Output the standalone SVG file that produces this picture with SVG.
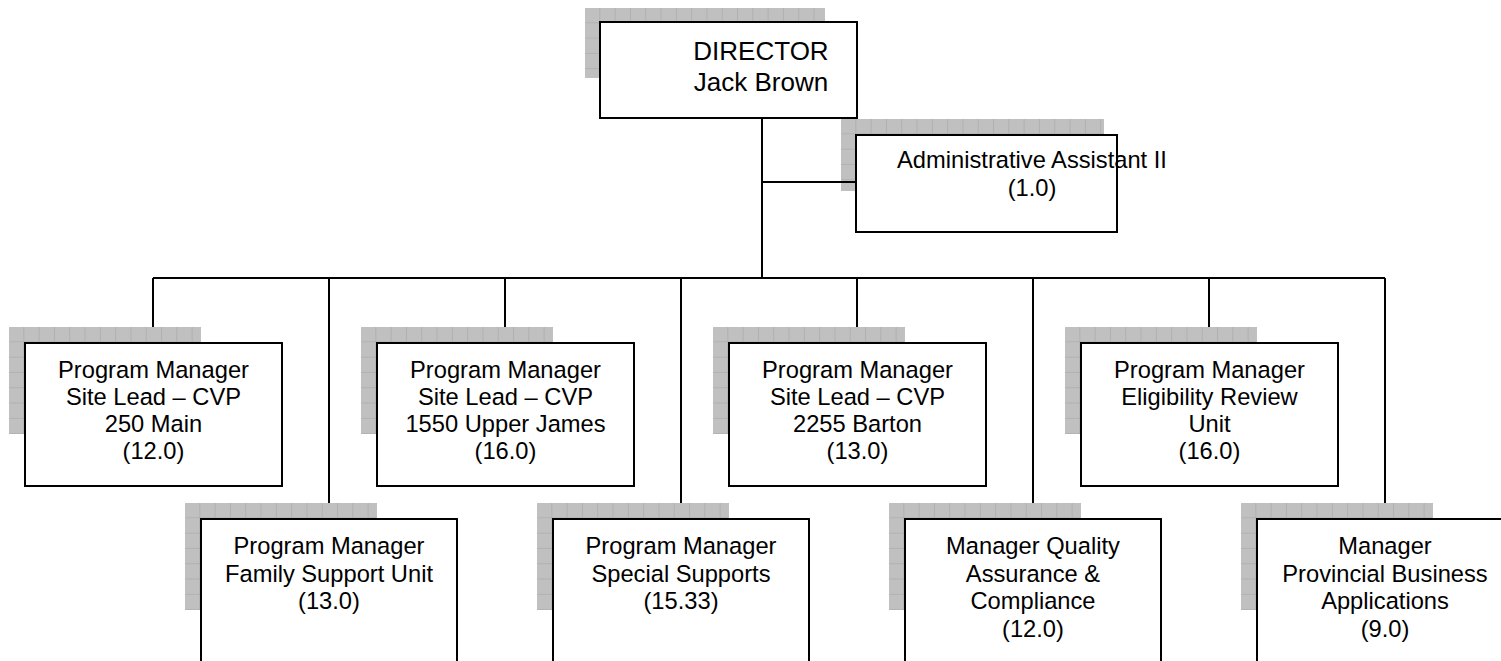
<svg xmlns="http://www.w3.org/2000/svg" width="1501" height="661" viewBox="0 0 1501 661">
<style>
.box{fill:#fff;stroke:#000;stroke-width:2}
.sh{fill:url(#grid)}
.t{font-family:"Liberation Sans",Arial,sans-serif;font-size:23.7px;fill:#000;text-anchor:middle}
.tb{font-family:"Liberation Sans",Arial,sans-serif;font-size:26px;fill:#000;text-anchor:middle}
.ln{stroke:#000;stroke-width:2;fill:none}
</style>
<defs>
<pattern id="grid" patternUnits="userSpaceOnUse" width="15.3" height="15.3">
<rect width="15.3" height="15.3" fill="#c0c0c0"/>
<path d="M15.3 0V15.3M0 15.3H15.3" stroke="#a2a2a2" stroke-width="1"/>
</pattern>
</defs>
<rect width="1501" height="661" fill="#fff"/>

<g id="director">
<g transform="translate(585,8)"><rect class="sh" width="240" height="70"/></g>
<rect class="box" x="600" y="22" width="257" height="96"/>
<text class="tb" x="761" y="60">DIRECTOR</text>
<text class="tb" x="761" y="91">Jack Brown</text>
</g>

<g id="admin">
<g transform="translate(841,119)"><rect class="sh" width="263" height="72"/></g>
<rect class="box" x="856" y="135" width="261" height="97"/>
<text class="t" x="1032" y="168">Administrative Assistant II</text>
<text class="t" x="1032" y="196">(1.0)</text>
</g>

<g id="connectors">
<path class="ln" d="M762 118V278M762 182H856M153 278H1385"/>
<path class="ln" d="M153 278V343M505 278V343M857 278V343M1209 278V343"/>
<path class="ln" d="M329 278V519M681 278V519M1033 278V519M1385 278V519"/>
</g>

<g id="pm1">
<g transform="translate(9,327)"><rect class="sh" width="192" height="107"/></g>
<rect class="box" x="25" y="343" width="257" height="143"/>
<text class="t" x="153.5" y="377.5">Program Manager</text>
<text class="t" x="153.5" y="404.5">Site Lead – CVP</text>
<text class="t" x="153.5" y="432">250 Main</text>
<text class="t" x="153.5" y="459">(12.0)</text>
</g>

<g id="pm2">
<g transform="translate(361,327)"><rect class="sh" width="192" height="107"/></g>
<rect class="box" x="377" y="343" width="257" height="143"/>
<text class="t" x="505.5" y="377.5">Program Manager</text>
<text class="t" x="505.5" y="404.5">Site Lead – CVP</text>
<text class="t" x="505.5" y="432">1550 Upper James</text>
<text class="t" x="505.5" y="459">(16.0)</text>
</g>

<g id="pm3">
<g transform="translate(713,327)"><rect class="sh" width="192" height="107"/></g>
<rect class="box" x="729" y="343" width="257" height="143"/>
<text class="t" x="857.5" y="377.5">Program Manager</text>
<text class="t" x="857.5" y="404.5">Site Lead – CVP</text>
<text class="t" x="857.5" y="432">2255 Barton</text>
<text class="t" x="857.5" y="459">(13.0)</text>
</g>

<g id="pm4">
<g transform="translate(1065,327)"><rect class="sh" width="192" height="107"/></g>
<rect class="box" x="1081" y="343" width="257" height="143"/>
<text class="t" x="1209.5" y="377.5">Program Manager</text>
<text class="t" x="1209.5" y="404.5">Eligibility Review</text>
<text class="t" x="1209.5" y="432">Unit</text>
<text class="t" x="1209.5" y="459">(16.0)</text>
</g>

<g id="pm5">
<g transform="translate(185,503)"><rect class="sh" width="192" height="107"/></g>
<rect class="box" x="201" y="519" width="256" height="180"/>
<text class="t" x="329" y="554">Program Manager</text>
<text class="t" x="329" y="581.5">Family Support Unit</text>
<text class="t" x="329" y="609">(13.0)</text>
</g>

<g id="pm6">
<g transform="translate(537,503)"><rect class="sh" width="192" height="107"/></g>
<rect class="box" x="553" y="519" width="256" height="180"/>
<text class="t" x="681" y="554">Program Manager</text>
<text class="t" x="681" y="581.5">Special Supports</text>
<text class="t" x="681" y="609">(15.33)</text>
</g>

<g id="mgr-qa">
<g transform="translate(889,503)"><rect class="sh" width="192" height="107"/></g>
<rect class="box" x="905" y="519" width="256" height="180"/>
<text class="t" x="1033" y="554">Manager Quality</text>
<text class="t" x="1033" y="581.5">Assurance &amp;</text>
<text class="t" x="1033" y="609">Compliance</text>
<text class="t" x="1033" y="636.5">(12.0)</text>
</g>

<g id="mgr-pba">
<g transform="translate(1241,503)"><rect class="sh" width="192" height="107"/></g>
<rect class="box" x="1257" y="519" width="256" height="180"/>
<text class="t" x="1385" y="554">Manager</text>
<text class="t" x="1385" y="581.5">Provincial Business</text>
<text class="t" x="1385" y="609">Applications</text>
<text class="t" x="1385" y="636.5">(9.0)</text>
</g>
</svg>
